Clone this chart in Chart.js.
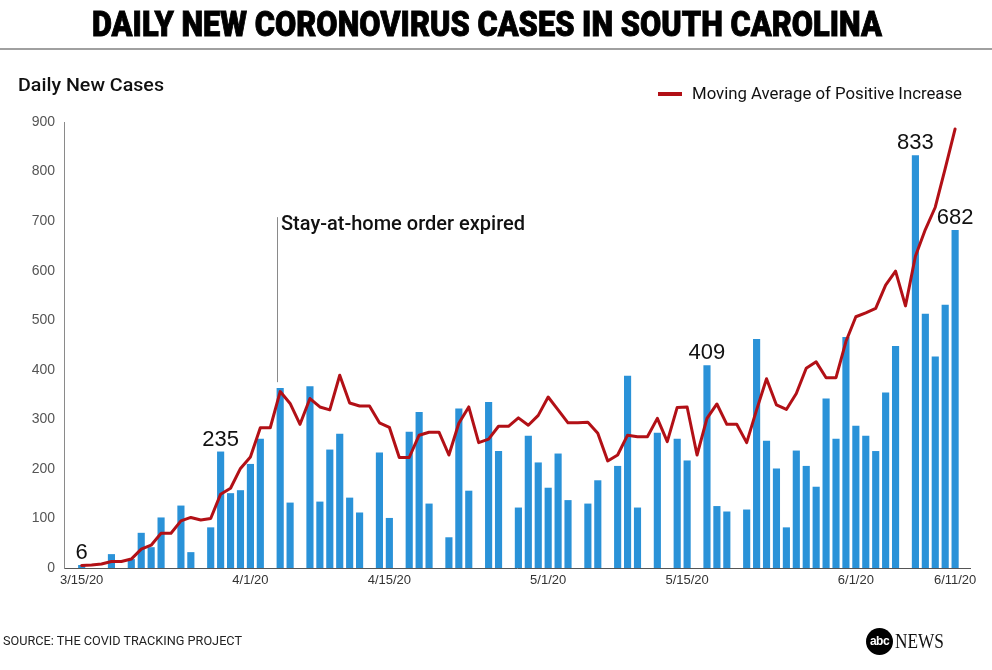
<!DOCTYPE html>
<html>
<head>
<meta charset="utf-8">
<script src="https://cdn.jsdelivr.net/npm/chart.js@4.4.1/dist/chart.umd.min.js"></script>
<style>
html,body{margin:0;padding:0;background:#fff;}
#wrap{position:relative;width:992px;height:670px;overflow:hidden;background:#fff;}
#c{position:absolute;left:0;top:0;}
.t{position:absolute;white-space:nowrap;line-height:1;transform-origin:0 50%;}
#title{left:92px;top:7px;font-family:Roboto,"Liberation Sans",sans-serif;font-weight:900;font-size:35px;color:#000;-webkit-text-stroke:0.9px #000;}
#rule{position:absolute;left:0;top:48px;width:992px;height:2px;background:#a0a0a0;}
#ylab{left:18px;top:76px;font-family:Roboto,"Liberation Sans",sans-serif;font-weight:500;font-size:18px;color:#111;}
#legsw{position:absolute;left:658px;top:92px;width:24px;height:4px;background:#b21016;}
#legtx{left:692px;top:86px;font-family:Roboto,"Liberation Sans",sans-serif;font-weight:400;font-size:16px;color:#111;}
#src{left:3px;top:634px;font-family:Roboto,"Liberation Sans",sans-serif;font-size:13px;color:#222;}
#logo{position:absolute;left:866px;top:628px;width:27px;height:27px;border-radius:50%;background:#000;color:#fff;font-family:"Liberation Sans",sans-serif;font-weight:bold;font-size:12px;line-height:27px;text-align:center;letter-spacing:-0.5px;}
#news{left:895px;top:631px;font-family:"Liberation Serif",serif;font-size:20px;color:#111;}
</style>
</head>
<body>
<div id="wrap">
  <canvas id="c" width="992" height="670"></canvas>
  <div class="t" id="title">DAILY NEW CORONOVIRUS CASES IN SOUTH CAROLINA</div>
  <div id="rule"></div>
  <div class="t" id="ylab">Daily New Cases</div>
  <div id="legsw"></div>
  <div class="t" id="legtx">Moving Average of Positive Increase</div>
  <div class="t" id="src">SOURCE: THE COVID TRACKING PROJECT</div>
  <div id="logo">abc</div>
  <div class="t" id="news">NEWS</div>
</div>
<script>
// ---- data ----
const categories = [
 "3/15/20","3/16/20","3/17/20","3/18/20","3/19/20","3/20/20","3/21/20","3/22/20","3/23/20","3/24/20",
 "3/25/20","3/26/20","3/27/20","3/28/20","3/29/20","3/30/20","3/31/20",
 "4/1/20","4/2/20","4/3/20","4/4/20","4/5/20","4/6/20","4/7/20","4/8/20","4/9/20","4/10/20",
 "4/11/20","4/12/20","4/13/20","4/14/20","4/15/20","4/16/20","4/17/20","4/18/20","4/19/20","4/20/20",
 "4/21/20","4/22/20","4/23/20","4/24/20","4/25/20","4/26/20","4/27/20","4/28/20","4/29/20","4/30/20",
 "5/1/20","5/2/20","5/3/20","5/4/20","5/5/20","5/6/20","5/7/20","5/8/20","5/9/20","5/10/20",
 "5/11/20","5/12/20","5/13/20","5/14/20","5/15/20","5/16/20","5/17/20","5/18/20","5/19/20","5/20/20",
 "5/21/20","5/22/20","5/23/20","5/24/20","5/25/20","5/26/20","5/27/20","5/28/20","5/29/20","5/30/20","5/31/20",
 "6/1/20","6/2/20","6/3/20","6/4/20","6/5/20","6/6/20","6/7/20","6/8/20","6/9/20","6/10/20","6/11/20"
];
const dailyCases = [
 6,null,null,28,null,18,71,42,102,null,
 126,32,null,82,235,151,157,210,261,null,
 363,132,null,367,134,239,271,142,112,null,
 233,101,null,275,315,130,null,62,322,156,
 null,335,236,null,122,267,213,162,231,137,
 null,130,177,null,206,388,122,null,273,null,
 261,217,null,409,125,114,null,118,462,257,
 201,82,237,206,164,342,261,466,287,267,
 236,354,448,null,833,513,427,531,682
];
const movingAverage = [
 5,6,8,13,13,18,38,46,70,70,
 95,102,97,100,149,161,201,224,283,283,
 356,332,290,342,325,319,389,333,327,327,
 293,284,223,223,268,274,274,228,292,325,
 253,260,286,286,303,288,308,345,319,293,
 293,294,272,216,228,268,265,265,302,255,
 324,325,228,302,331,290,290,253,319,382,
 329,320,352,403,416,384,384,457,507,515,
 524,571,599,529,629,683,728,806,886
];
const xTickIndices = [0,17,31,47,61,78,88];
const calloutIndices = [0,14,63,84,88];
const annotationText = "Stay-at-home order expired";
const annotationX = 19.72;
const annotationTop = 708;
const annotationBottom = 375;

// ---- chart ----
const toXY = arr => arr.map((v,i)=>({x:i,y:v}));
const annotPlugin = {
  id:'annot',
  afterDatasetsDraw(chart){
    const {ctx, scales:{x,y}} = chart;
    ctx.save();
    ctx.fillStyle = '#111';
    ctx.font = '22px "Liberation Sans", Arial, sans-serif';
    ctx.textAlign = 'center';
    ctx.textBaseline = 'alphabetic';
    calloutIndices.forEach(i=>{
      ctx.fillText(String(dailyCases[i]), x.getPixelForValue(i), y.getPixelForValue(dailyCases[i]) - 6);
    });
    const ax = Math.round(x.getPixelForValue(annotationX)) + 0.5;
    const yt = y.getPixelForValue(annotationTop);
    ctx.strokeStyle = '#8a8a8a';
    ctx.lineWidth = 1;
    ctx.beginPath();
    ctx.moveTo(ax, yt);
    ctx.lineTo(ax, y.getPixelForValue(annotationBottom));
    ctx.stroke();
    ctx.textAlign = 'left';
    ctx.textBaseline = 'middle';
    ctx.font = '500 20px Roboto, "Liberation Sans", Arial, sans-serif';
    const w = ctx.measureText(annotationText).width;
    ctx.translate(ax + 3.5, yt + 8);
    ctx.scale(244 / w, 1);
    ctx.fillText(annotationText, 0, 0);
    ctx.restore();
  }
};

new Chart(document.getElementById('c'), {
  data:{
    datasets:[
      {type:'line', label:'Moving Average of Positive Increase', data:toXY(movingAverage),
       borderColor:'#b21016', borderWidth:3, pointRadius:0, tension:0, order:0,
       borderJoinStyle:'round', borderCapStyle:'round'},
      {type:'bar', label:'Daily New Cases', data:toXY(dailyCases),
       backgroundColor:'#2a92d8', categoryPercentage:1, barPercentage:0.72, order:1}
    ]
  },
  options:{
    responsive:false, animation:false,
    layout:{padding:{top:122,right:22,bottom:0,left:0}},
    plugins:{legend:{display:false}, tooltip:{enabled:false}, title:{display:false}},
    scales:{
      x:{type:'linear', min:-1.78, max:89.5, offset:false,
         grid:{display:false, drawTicks:false},
         border:{display:true, color:'#555', width:1},
         afterBuildTicks: s => { s.ticks = xTickIndices.map(v=>({value:v})); },
         ticks:{autoSkip:false, maxRotation:0, padding:5, color:'#333',
                font:{family:'"Liberation Sans", Arial, sans-serif', size:13},
                callback: v => categories[v]},
         afterFit: s => { s.height = 102; }
      },
      y:{min:0, max:900,
         grid:{display:false, drawTicks:false},
         border:{display:true, color:'#8a8a8a', width:1},
         ticks:{stepSize:100, padding:9, color:'#555',
                font:{family:'"Liberation Sans", Arial, sans-serif', size:14}},
         afterFit: s => { s.width = 64; }
      }
    }
  },
  plugins:[annotPlugin]
});

// fit html texts to reference widths
function fitW(id, w){
  const el = document.getElementById(id);
  const r = el.getBoundingClientRect().width;
  if (r > 0) el.style.transform = 'scaleX(' + (w / r) + ')';
}
fitW('title', 790);
fitW('ylab', 146);
fitW('legtx', 270);
fitW('src', 239);
fitW('news', 49);
</script>
</body>
</html>
